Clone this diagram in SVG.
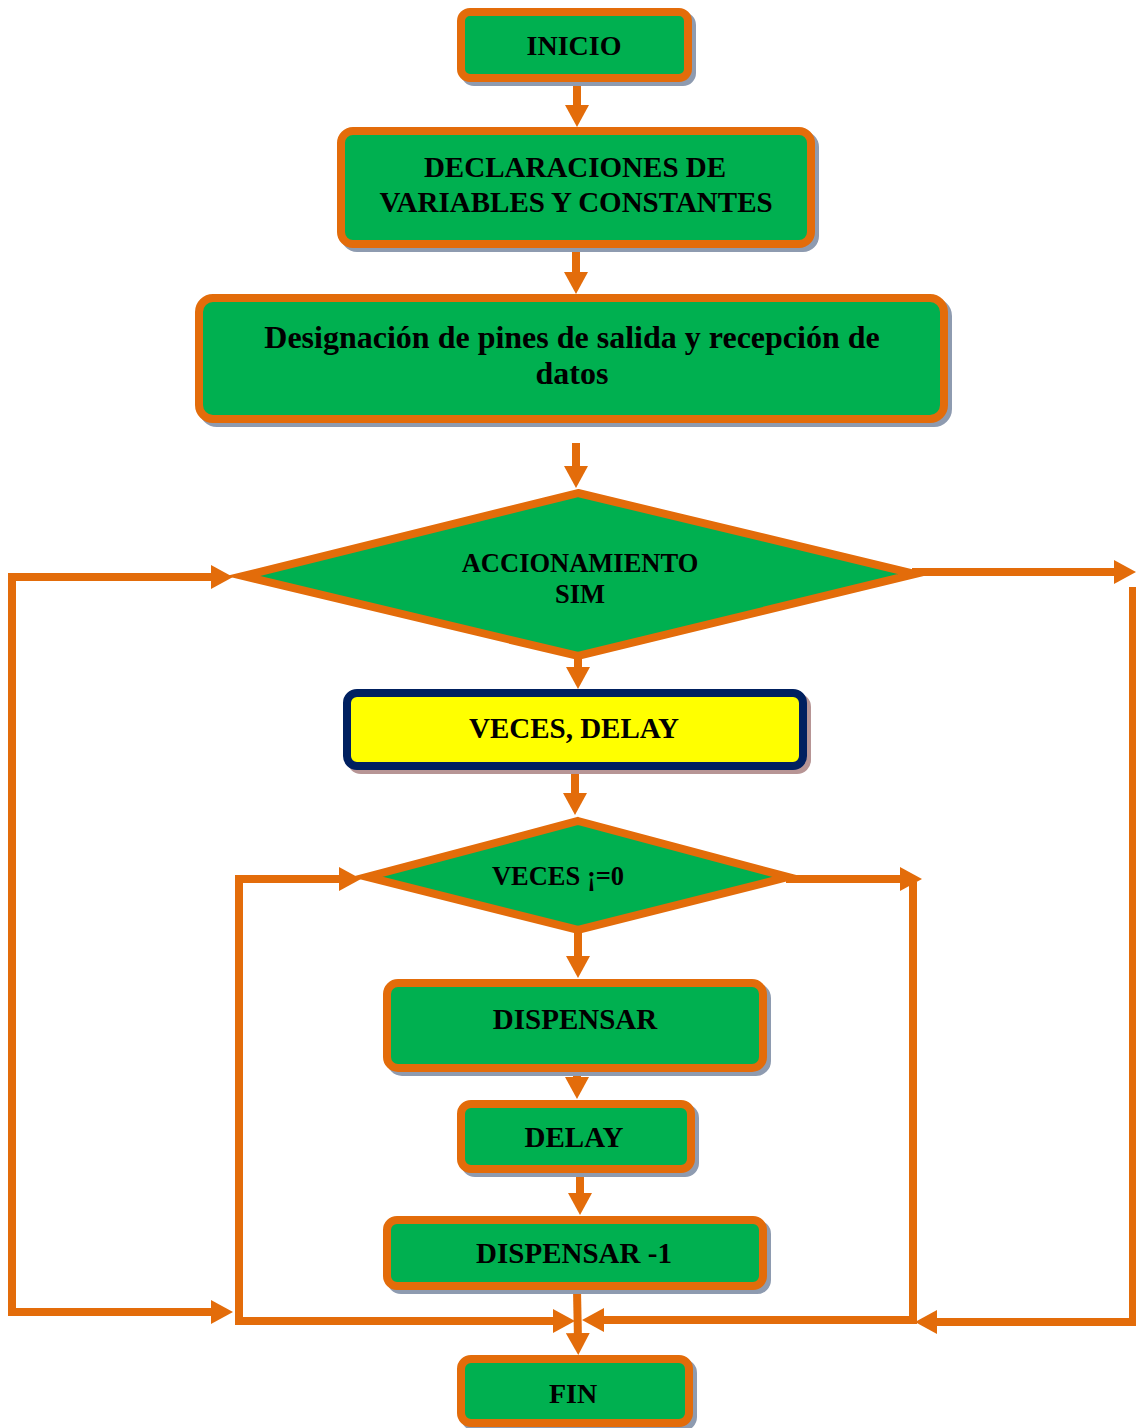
<svg xmlns="http://www.w3.org/2000/svg" width="1136" height="1428" viewBox="0 0 1136 1428">
  <style>
    .box { fill: #00B050; stroke: #E36C0A; stroke-width: 8; }
    .shadow { fill: #8E9BB0; stroke: #8E9BB0; stroke-width: 8; }
    .shadow-y { fill: #B79595; stroke: #B79595; stroke-width: 8; }
    .io { fill: #FFFF00; stroke: #002060; stroke-width: 8; }
    .dec { fill: #00B050; stroke: #E36C0A; stroke-width: 8; stroke-linejoin: miter; stroke-miterlimit: 10; }
    .lbl { font-family: "Liberation Serif", "Times New Roman", serif; font-weight: bold; fill: #000; text-anchor: middle; }
    .edge { fill: none; stroke: #E36C0A; stroke-width: 8; stroke-linejoin: miter; }
  </style>
  <defs>
    <marker id="head" markerUnits="userSpaceOnUse" markerWidth="22" markerHeight="24" viewBox="0 0 22 24" refX="8" refY="12" orient="auto-start-reverse">
      <path d="M0,0 L22,12 L0,24 Z" fill="#E36C0A"/>
    </marker>
  </defs>

  <rect width="1136" height="1428" fill="#FFFFFF"/>

  <!-- connectors -->
  <g id="connectors">
    <path class="edge" d="M577 82 V113" marker-end="url(#head)"/>
    <path class="edge" d="M576 248 V280" marker-end="url(#head)"/>
    <path class="edge" d="M576 443 V474" marker-end="url(#head)"/>
    <path class="edge" d="M578 658 V675" marker-end="url(#head)"/>
    <path class="edge" d="M575 770 V801" marker-end="url(#head)"/>
    <path class="edge" d="M578 930 V964" marker-end="url(#head)"/>
    <path class="edge" d="M577 1072 V1085" marker-end="url(#head)"/>
    <path class="edge" d="M580 1173 V1201" marker-end="url(#head)"/>
    <path class="edge" d="M577 1290 L578 1341" marker-end="url(#head)"/>
    <!-- outer loop, left side -->
    <path class="edge" d="M219 1312 H12 V577 H219" marker-start="url(#head)" marker-end="url(#head)"/>
    <!-- outer loop, right side -->
    <path class="edge" d="M912 572 H1122" marker-end="url(#head)"/>
    <path class="edge" d="M1133 587 V1322 H929" marker-end="url(#head)"/>
    <!-- inner loop, right side -->
    <path class="edge" d="M786 879 H908" marker-end="url(#head)"/>
    <path class="edge" d="M913 882 V1320 H596" marker-end="url(#head)"/>
    <!-- inner loop, left side -->
    <path class="edge" d="M561 1321 H239 V879 H347" marker-start="url(#head)" marker-end="url(#head)"/>
  </g>

  <g id="inicio">
    <rect class="shadow" x="465" y="16" width="227" height="66" rx="9"/>
    <rect class="box" x="461" y="12" width="227" height="66" rx="9"/>
    <text class="lbl" x="574" y="55" font-size="28">INICIO</text>
  </g>

  <g id="declaraciones">
    <rect class="shadow" x="345" y="135" width="470" height="113" rx="12"/>
    <rect class="box" x="341" y="131" width="470" height="113" rx="12"/>
    <text class="lbl" x="575" y="177" font-size="29">DECLARACIONES DE</text>
    <text class="lbl" x="576" y="212" font-size="29">VARIABLES Y CONSTANTES</text>
  </g>

  <g id="designacion">
    <rect class="shadow" x="203" y="302" width="745" height="121" rx="14"/>
    <rect class="box" x="199" y="298" width="745" height="121" rx="14"/>
    <text class="lbl" x="572" y="348" font-size="32">Designación de pines de salida y recepción de</text>
    <text class="lbl" x="572" y="384" font-size="32">datos</text>
  </g>

  <g id="accionamiento">
    <polygon class="dec" points="578,493 915,574 578,656 243,576"/>
    <text class="lbl" x="580" y="572" font-size="26.5">ACCIONAMIENTO</text>
    <text class="lbl" x="580" y="603" font-size="26.5">SIM</text>
  </g>

  <g id="veces-delay">
    <rect class="shadow-y" x="351" y="697" width="456" height="73" rx="10"/>
    <rect class="io" x="347" y="693" width="456" height="73" rx="10"/>
    <text class="lbl" x="574" y="738" font-size="29">VECES, DELAY</text>
  </g>

  <g id="veces-cond">
    <polygon class="dec" points="578,821 788,877 578,930 367,877"/>
    <text class="lbl" x="558" y="885" font-size="26.5">VECES ¡=0</text>
  </g>

  <g id="dispensar">
    <rect class="shadow" x="391" y="987" width="376" height="85" rx="11"/>
    <rect class="box" x="387" y="983" width="376" height="85" rx="11"/>
    <text class="lbl" x="575" y="1029" font-size="29">DISPENSAR</text>
  </g>

  <g id="delay">
    <rect class="shadow" x="465" y="1108" width="230" height="65" rx="10"/>
    <rect class="box" x="461" y="1104" width="230" height="65" rx="10"/>
    <text class="lbl" x="574" y="1147" font-size="29">DELAY</text>
  </g>

  <g id="dispensar-menos-1">
    <rect class="shadow" x="391" y="1224" width="376" height="66" rx="10"/>
    <rect class="box" x="387" y="1220" width="376" height="66" rx="10"/>
    <text class="lbl" x="574" y="1263" font-size="29">DISPENSAR -1</text>
  </g>

  <g id="fin">
    <rect class="shadow" x="465" y="1363" width="228" height="64" rx="10"/>
    <rect class="box" x="461" y="1359" width="228" height="64" rx="10"/>
    <text class="lbl" x="573" y="1403" font-size="28">FIN</text>
  </g>
</svg>
